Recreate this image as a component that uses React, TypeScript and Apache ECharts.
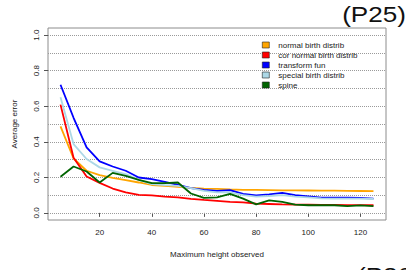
import React, { useEffect, useRef } from "react";
import * as echarts from "echarts";

const heights = [5, 10, 15, 20, 25, 30, 35, 40, 45, 50, 55, 60, 65, 70, 75, 80, 85, 90, 95, 100, 105, 110, 115, 120, 125];

const normalBirth = [0.487, 0.306, 0.237, 0.212, 0.197, 0.184, 0.171, 0.157, 0.152, 0.146, 0.141, 0.137, 0.135, 0.132, 0.130, 0.129, 0.128, 0.127, 0.127, 0.126, 0.125, 0.125, 0.124, 0.123, 0.122];
const corNormalBirth = [0.609, 0.31, 0.205, 0.169, 0.137, 0.115, 0.101, 0.098, 0.092, 0.087, 0.079, 0.073, 0.068, 0.062, 0.059, 0.052, 0.05, 0.048, 0.047, 0.046, 0.045, 0.045, 0.044, 0.044, 0.043];
const transformFun = [0.721, 0.535, 0.368, 0.29, 0.261, 0.237, 0.199, 0.19, 0.175, 0.158, 0.139, 0.13, 0.124, 0.128, 0.107, 0.098, 0.104, 0.113, 0.1, 0.093, 0.086, 0.086, 0.086, 0.084, 0.08];
const specialBirth = [0.65, 0.387, 0.303, 0.256, 0.237, 0.218, 0.186, 0.162, 0.156, 0.152, 0.139, 0.124, 0.115, 0.115, 0.1, 0.092, 0.095, 0.1, 0.092, 0.087, 0.082, 0.08, 0.08, 0.08, 0.078];
const spine = [0.203, 0.261, 0.233, 0.171, 0.225, 0.208, 0.186, 0.167, 0.167, 0.171, 0.109, 0.085, 0.087, 0.107, 0.08, 0.048, 0.07, 0.062, 0.047, 0.043, 0.043, 0.043, 0.038, 0.042, 0.038];

const xTicks = [20, 40, 60, 80, 100, 120];
const yTicks = [0, 0.2, 0.4, 0.6, 0.8, 1.0];
const gridValues = [0, 0.1, 0.2, 0.3, 0.4, 0.5, 0.6, 0.7, 0.8, 0.9, 1.0];

const seriesNames = ["normal birth distrib", "cor normal birth distrib", "transform fun", "special birth distrib", "spine"];
const seriesColors = ["#FFA500", "#FF0000", "#0000FF", "#ADD8E6", "#006400"];
const seriesData = [normalBirth, corNormalBirth, transformFun, specialBirth, spine];

const FONT = "'Liberation Sans', Arial, Helvetica, sans-serif";

export default function App() {
  const ref = useRef<HTMLDivElement>(null);
  useEffect(() => {
    const chart = echarts.init(ref.current as HTMLDivElement, null, { renderer: "svg" });
    const series: any[] = seriesNames.map((name, si) => ({
      type: "line",
      name,
      data: heights.map((h, i) => [h, seriesData[si][i]]),
      symbol: "none",
      showSymbol: false,
      lineStyle: { color: seriesColors[si], width: 1.8 },
      itemStyle: { color: seriesColors[si] },
      emphasis: { disabled: true },
      z: 3 + si,
    }));
    series[0].markLine = {
      silent: true,
      symbol: ["none", "none"],
      label: { show: false },
      lineStyle: { color: "#9a9a9a", width: 1, type: "dotted" },
      emphasis: { disabled: true },
      data: gridValues.map((v) => ({ yAxis: v })),
      z: 1,
    };
    chart.setOption({
      animation: false,
      backgroundColor: "#ffffff",
      textStyle: { fontFamily: FONT },
      grid: {
        left: 48,
        top: 28,
        width: 338,
        height: 192,
        show: true,
        borderColor: "#8c8c8c",
        borderWidth: 1,
        backgroundColor: "transparent",
      },
      xAxis: {
        type: "value",
        min: 0.2,
        max: 129.8,
        axisLine: { show: false },
        axisTick: { show: true, length: 4, customValues: xTicks, lineStyle: { color: "#555" } },
        axisLabel: { customValues: xTicks, fontSize: 8, color: "#222", margin: 8, fontFamily: FONT },
        splitLine: { show: false },
        name: "Maximum height observed",
        nameLocation: "middle",
        nameGap: 30,
        nameTextStyle: { fontSize: 8, color: "#222", fontFamily: FONT },
      },
      yAxis: {
        type: "value",
        min: -0.04,
        max: 1.04,
        axisLine: { show: false },
        axisTick: { show: true, length: 4, customValues: yTicks, lineStyle: { color: "#555" } },
        axisLabel: {
          customValues: yTicks,
          rotate: 90,
          fontSize: 8,
          color: "#222",
          margin: 8,
          fontFamily: FONT,
          formatter: (v: number) => v.toFixed(1),
        },
        splitLine: { show: false },
        name: "Average error",
        nameLocation: "middle",
        nameGap: 30,
        nameRotate: 90,
        nameTextStyle: { fontSize: 8, color: "#222", fontFamily: FONT },
      },
      legend: {
        data: seriesNames,
        orient: "vertical",
        left: 262,
        top: 41,
        icon: "rect",
        itemWidth: 7,
        itemHeight: 6,
        itemGap: 2,
        padding: 0,
        itemStyle: { borderColor: "#222", borderWidth: 0.6 },
        textStyle: { fontSize: 8, color: "#222", fontFamily: FONT, padding: [0, 0, 0, 4] },
        selectedMode: false,
      },
      graphic: [
        {
          type: "text",
          x: 406,
          y: 3,
          scaleX: 1.16,
          style: { text: "(P25)", fontSize: 22.5, fontFamily: FONT, fill: "#111", align: "right", verticalAlign: "top" },
        },
        {
          type: "text",
          x: 357,
          y: 264,
          scaleX: 1.16,
          style: { text: "(P26)", fontSize: 22.5, fontFamily: FONT, fill: "#111", align: "left", verticalAlign: "top" },
        },
      ],
      series,
    });
    return () => chart.dispose();
  }, []);
  return (
    <div
      ref={ref}
      style={{ position: "fixed", left: 0, top: 0, width: 406, height: 270, background: "#fff" }}
    />
  );
}
